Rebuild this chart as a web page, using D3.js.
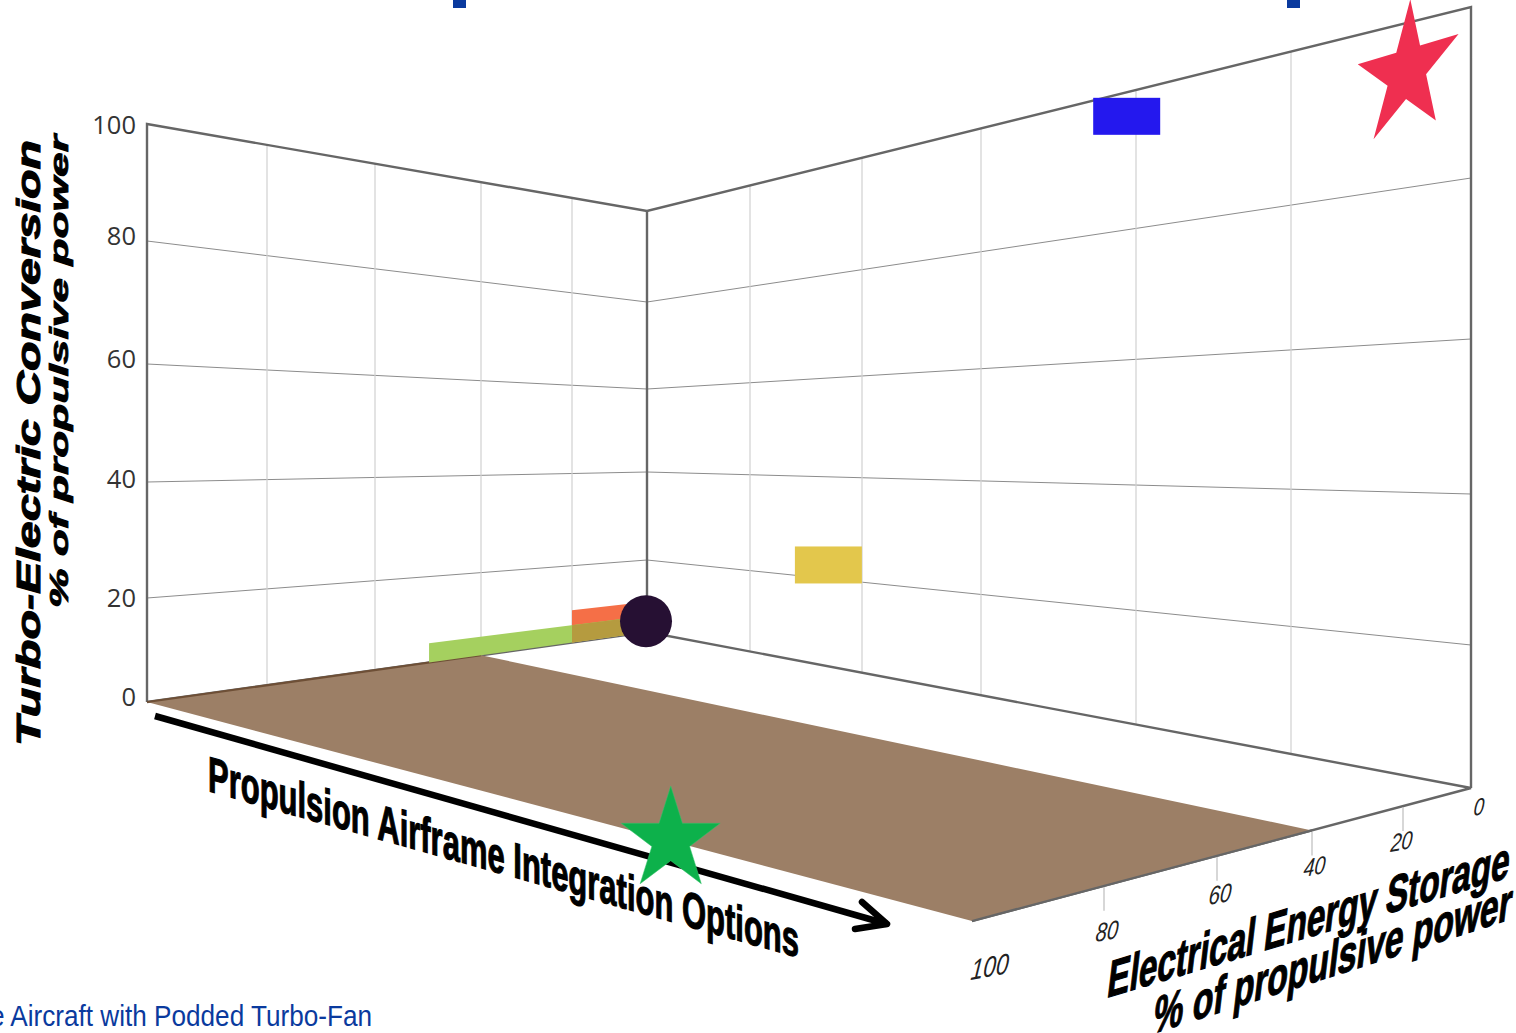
<!DOCTYPE html>
<html><head><meta charset="utf-8">
<script src="https://cdn.jsdelivr.net/npm/d3@7"></script>
<style>html,body{margin:0;padding:0;background:#fff;overflow:hidden}svg{display:block}</style>
</head><body><svg id="c" width="1516" height="1033"></svg>
<script>
// ---- data ----
const verticalTicks = [0,20,40,60,80,100];
const storageTicks = [0,20,40,60,80,100];
const integrationTicks = [0,1,2,3,4,5,6];          // unlabelled option columns
const floorStorageRange = [40,100];
const wallBars = [
  {name:"orange", storage:[0,20], turbo:[0,8.4], color:"#f56f47"},
  {name:"green", storage:[0,49.8], turbo:[0,4.5], color:"#a5d05f"},
  {name:"overlap", storage:[0,20], turbo:[0,4.5], color:"#b59b3f"}
];
const wallRects = [
  {name:"blue", integration:3.94, turbo:96.5, color:"#2418ee"},
  {name:"yellow", integration:1.70, turbo:22.7, color:"#e3c74c"}
];
const redStar = {integration:5.64, turbo:94};
const greenStar = {integration:4.22, storage:100};
const baseline = {storage:0, turbo:3.0};
const xTitle = "Propulsion Airframe Integration Options";
const yTitle = ["Turbo-Electric Conversion","% of propulsive power"];
const zTitle = ["Electrical Energy Storage","% of propulsive power"];
const footer = "e Aircraft with Podded Turbo-Fan";

// ---- perspective scales ----
const X0=147, XC=647, X1=1471;
const zLeft = d3.scaleLinear().domain(verticalTicks).range([702,598,482,364,241,124]);
const zCorner = d3.scaleLinear().domain(verticalTicks).range([632,560,472,389,302,211]);
const zRight = d3.scaleLinear().domain(verticalTicks).range([788,645,494,339,178,7]);
const zLabel = d3.scaleLinear().domain(verticalTicks).range([706,607,488,368,245,134]);
const intX = d3.scaleLinear().domain(integrationTicks).range([647,750,862,981,1136,1291,1471]);
const backX = d3.scaleLinear().domain(storageTicks).range([647,572,481,375,267,147]);
const frontX = d3.scaleLinear().domain(storageTicks).range([1471,1403,1312,1217,1104,972]);
const frontY = d3.scaleLinear().domain([1471,972]).range([788,921]);

function leftWall(s,z){const x=backX(s),t=(XC-x)/(XC-X0);return [x,(1-t)*zCorner(z)+t*zLeft(z)];}
function rightWall(i,z){const x=intX(i),t=(x-XC)/(X1-XC);return [x,(1-t)*zCorner(z)+t*zRight(z)];}
function floorPt(i,s){
  const t=(intX(i)-XC)/(X1-XC), b=leftWall(s,0), fx=frontX(s), fy=frontY(fx);
  return [b[0]+(fx-b[0])*t,b[1]+(fy-b[1])*t];
}
const svg=d3.select("#c");
const line=d3.line();
const iMax=6;

// cropped slide-title fragments at the top edge
svg.append("g").selectAll("rect").data([453,1287]).join("rect")
  .attr("x",d=>d).attr("y",0).attr("width",13).attr("height",8).attr("fill","#0a3a9e");

// grid
const grid=svg.append("g").attr("fill","none");
verticalTicks.slice(1,-1).forEach(z=>{
  grid.append("path").attr("d",line([leftWall(100,z),leftWall(0,z),rightWall(iMax,z)])).attr("stroke","#8c8c8c").attr("stroke-width",1);
});
storageTicks.slice(1,-1).forEach(s=>{
  grid.append("path").attr("d",line([leftWall(s,0),leftWall(s,100)])).attr("stroke","#d0d0d0").attr("stroke-width",1.2);
});
integrationTicks.slice(1,-1).forEach(i=>{
  grid.append("path").attr("d",line([rightWall(i,0),rightWall(i,100)])).attr("stroke","#d0d0d0").attr("stroke-width",1.2);
});
// frame
const frame=svg.append("g").attr("fill","none").attr("stroke","#666").attr("stroke-width",2.4);
frame.append("path").attr("d",line([leftWall(100,0),leftWall(100,100),leftWall(0,100),rightWall(iMax,100),rightWall(iMax,0)]));
frame.append("path").attr("d",line([leftWall(0,100),leftWall(0,0)]));
frame.append("path").attr("d",line([leftWall(100,0),leftWall(0,0),rightWall(iMax,0),floorPt(iMax,100)]));
// storage tick marks
svg.append("g").selectAll("line").data(storageTicks.slice(1,-1)).join("line")
  .attr("x1",d=>frontX(d)).attr("x2",d=>frontX(d))
  .attr("y1",d=>frontY(frontX(d))+1).attr("y2",d=>frontY(frontX(d))+25)
  .attr("stroke","#bdbdbd").attr("stroke-width",1.2);

// floor
const [fs0,fs1]=floorStorageRange;
svg.append("path").attr("d",line([leftWall(fs0,0),leftWall(fs1,0),floorPt(iMax,fs1),floorPt(iMax,fs0)])+"Z").attr("fill","#9c7f66");
svg.append("path").attr("d",line([leftWall(fs1,0),leftWall(fs0,0)])).attr("stroke","#6e4f36").attr("stroke-width",2.2).attr("fill","none");
svg.append("path").attr("d",line([floorPt(iMax,fs0),floorPt(iMax,fs1)])).attr("stroke","#666").attr("stroke-width",2.2).attr("fill","none");

// wall bars
wallBars.forEach(b=>{
  const [s0,s1]=b.storage,[z0,z1]=b.turbo;
  svg.append("path").attr("d",line([leftWall(s0,z0),leftWall(s1,z0),leftWall(s1,z1),leftWall(s0,z1)])+"Z").attr("fill",b.color);
});
// wall rects
wallRects.forEach(r=>{
  const [x,y]=rightWall(r.integration,r.turbo);
  svg.append("rect").attr("x",x-33.5).attr("y",y-18.5).attr("width",67).attr("height",37).attr("fill",r.color);
});
// baseline dot
const bp=leftWall(baseline.storage,baseline.turbo);
svg.append("circle").attr("cx",bp[0]-1).attr("cy",bp[1]).attr("r",26).attr("fill","#261033");

// stars
const starPath=d3.symbol().type(d3.symbolStar).size(11226)();
const rp=rightWall(redStar.integration,redStar.turbo);
svg.append("path").attr("d",starPath).attr("fill","#ef2f50")
  .attr("transform",`matrix(0.53,-0.16,-0.031,0.722,${rp[0]+1},${rp[1]-1})`);

// axis titles & arrow
const heavy=(sel,w)=>sel.attr("font-family","Liberation Sans").attr("font-weight",700).attr("stroke","#000").attr("stroke-width",w).attr("fill","#000").attr("lengthAdjust","spacingAndGlyphs");
heavy(svg.append("text").attr("transform","matrix(1,0.282,0,1,208,791)").attr("font-size",50).attr("textLength",591),1.2).text(xTitle);
svg.append("path").attr("d",line([[155,716],[887,924]])).attr("stroke","#000").attr("stroke-width",6.5).attr("fill","none");
svg.append("path").attr("d",line([[862,902],[887,924],[855,929]])).attr("stroke","#000").attr("stroke-width",6.5).attr("fill","none").attr("stroke-linecap","round").attr("stroke-linejoin","round");
const gp=floorPt(greenStar.integration,greenStar.storage);
svg.append("path").attr("d",starPath).attr("fill","#0db14b").attr("stroke","#35c46a").attr("stroke-width",1)
  .attr("transform",`matrix(0.52,0,0,0.54,${gp[0]},${gp[1]-1})`);

// vertical tick labels
svg.append("g").selectAll("text").data(verticalTicks).join("text")
  .attr("x",136).attr("y",d=>zLabel(d)).attr("text-anchor","end")
  .attr("font-family","Open Sans").attr("font-size",25.5).attr("fill","#333").text(d=>d);

// left titles
heavy(svg.append("text").attr("transform","translate(40,746) rotate(-90)").attr("font-style","italic").attr("font-size",33).attr("textLength",606),1).text(yTitle[0]);
heavy(svg.append("text").attr("transform","translate(68,608) rotate(-90)").attr("font-style","italic").attr("font-size",25).attr("textLength",473),0.8).text(yTitle[1]);

// storage tick labels
const labelPos=[[1473,816,24],[1390,852,25],[1303,877,25],[1208,905,26],[1095,942,26],[970,980,29]];
svg.append("g").selectAll("text").data(storageTicks).join("text")
  .attr("transform",(d,i)=>`matrix(0.78,-0.14,-0.1,1,${labelPos[i][0]},${labelPos[i][1]})`)
  .attr("font-family","Liberation Sans").attr("font-style","italic").attr("font-size",(d,i)=>labelPos[i][2]).attr("fill","#222").text(d=>d);

// right titles
heavy(svg.append("text").attr("transform","matrix(1,-0.30,-0.12,1,1106,998)").attr("font-size",53).attr("textLength",402),1.2).text(zTitle[0]);
heavy(svg.append("text").attr("transform","matrix(1,-0.32,-0.12,1,1152,1034)").attr("font-size",53).attr("textLength",358),1.2).text(zTitle[1]);

// footer
svg.append("text").attr("x",-10).attr("y",1026).attr("font-family","Liberation Sans").attr("font-size",30).attr("fill","#0a3a9e")
  .attr("textLength",382).attr("lengthAdjust","spacingAndGlyphs").text(footer);
</script></body></html>
